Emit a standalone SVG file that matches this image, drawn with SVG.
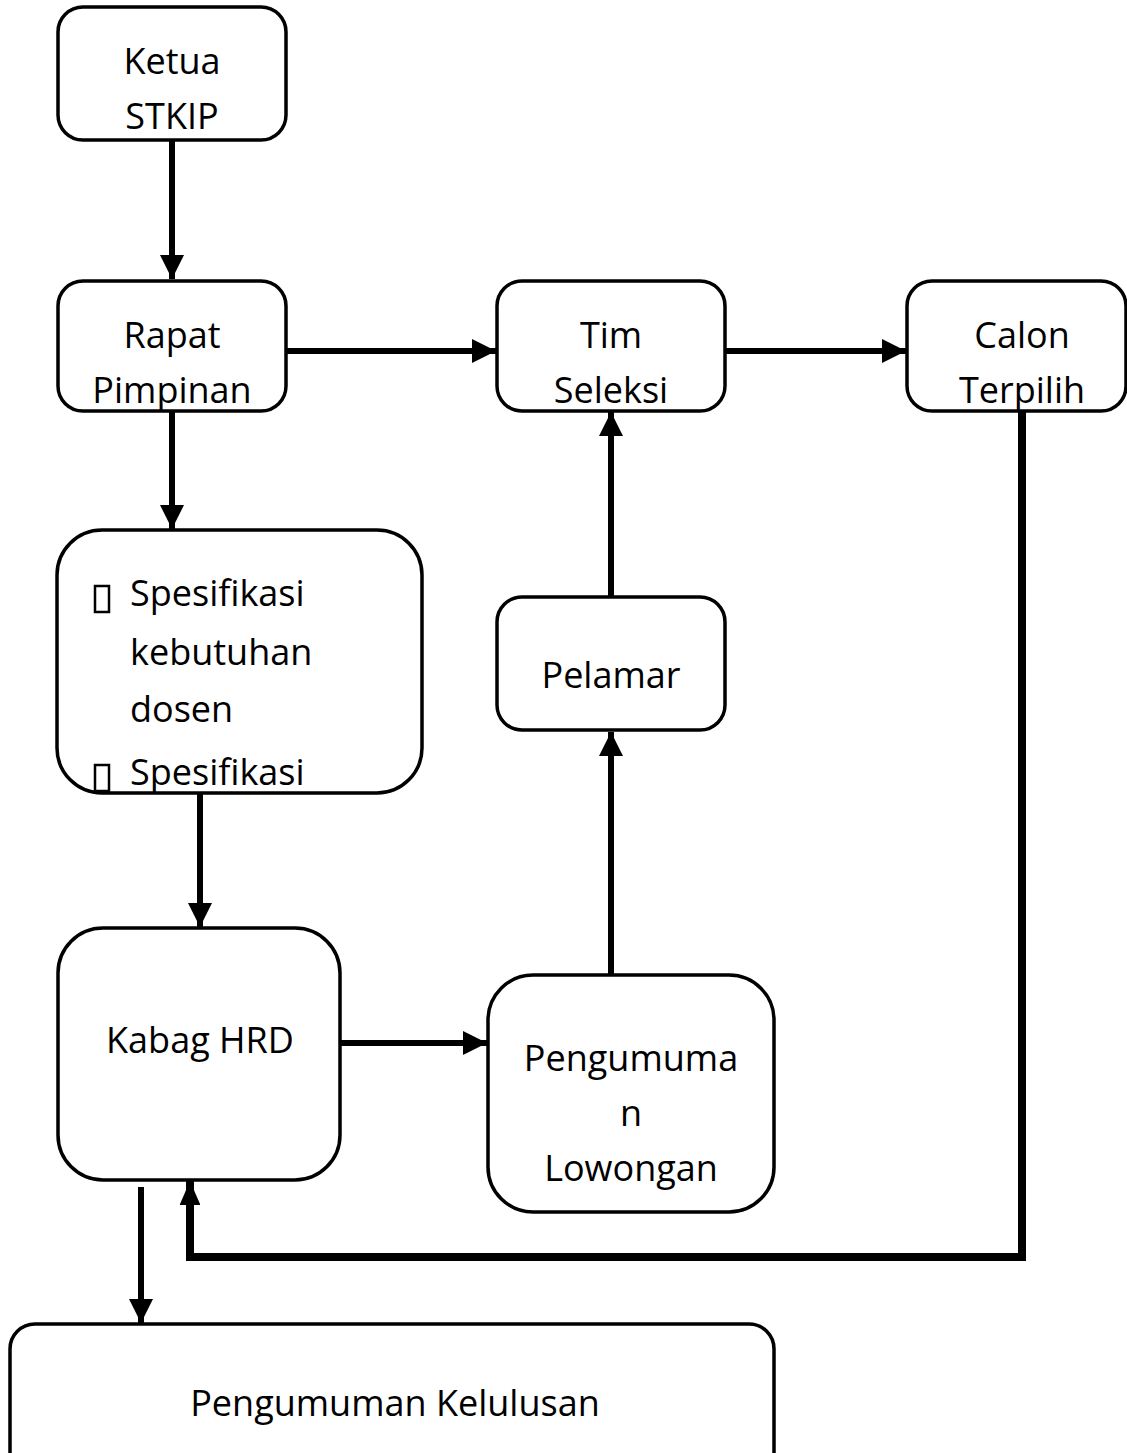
<svg xmlns="http://www.w3.org/2000/svg" width="1127" height="1453" viewBox="0 0 1127 1453">
<defs>
<style>
.box{fill:#fff;stroke:#000;stroke-width:3.5}
.t{font-family:"Open Sans","Liberation Sans",sans-serif;font-size:36px;fill:#000;text-anchor:middle}
.tl{font-family:"Open Sans","Liberation Sans",sans-serif;font-size:36px;fill:#000}
.c{fill:none;stroke:#000;stroke-width:6}
.cl{fill:none;stroke:#000;stroke-width:8}
.bul{fill:none;stroke:#000;stroke-width:2.5}
</style>
<marker id="ah" viewBox="0 0 10 10" refX="10" refY="5" markerWidth="4" markerHeight="4" markerUnits="strokeWidth" orient="auto"><path d="M0,0 L10,5 L0,10 z" fill="#000"/></marker>
<marker id="ah2" viewBox="0 0 10 10" refX="10" refY="5" markerWidth="3" markerHeight="2.6" markerUnits="strokeWidth" orient="auto" preserveAspectRatio="none"><path d="M0,0 L10,5 L0,10 z" fill="#000"/></marker>
</defs>
<g id="connectors">
<path class="c" d="M172,140 V279" marker-end="url(#ah)"/>
<path class="c" d="M286,351 H496" marker-end="url(#ah)"/>
<path class="c" d="M725,351 H906" marker-end="url(#ah)"/>
<path class="c" d="M172,411 V529" marker-end="url(#ah)"/>
<path class="c" d="M200,793 V927" marker-end="url(#ah)"/>
<path class="c" d="M340,1043 H487" marker-end="url(#ah)"/>
<path class="c" d="M611,975 V732" marker-end="url(#ah)"/>
<path class="c" d="M611,597 V412" marker-end="url(#ah)"/>
<path class="cl" d="M1022,411 V1257 H190 V1181" marker-end="url(#ah2)"/>
<path class="c" d="M141,1187 V1323" marker-end="url(#ah)"/>
</g>
<g id="ketua">
<rect class="box" x="58" y="7" width="228" height="133" rx="25"/>
<text class="t" x="172" y="74">Ketua</text>
<text class="t" x="172" y="129">STKIP</text>
</g>
<g id="rapat">
<rect class="box" x="58" y="281" width="228" height="130" rx="25"/>
<text class="t" x="172" y="348">Rapat</text>
<text class="t" x="172" y="403">Pimpinan</text>
</g>
<g id="tim">
<rect class="box" x="497" y="281" width="228" height="130" rx="25"/>
<text class="t" x="611" y="348">Tim</text>
<text class="t" x="611" y="403">Seleksi</text>
</g>
<g id="calon">
<rect class="box" x="907" y="281" width="219" height="130" rx="25"/>
<text class="t" x="1022" y="348">Calon</text>
<text class="t" x="1022" y="403">Terpilih</text>
</g>
<g id="spesifikasi">
<rect class="box" x="57" y="530" width="365" height="263" rx="45"/>
<rect class="bul" x="95" y="586" width="14" height="26"/>
<text class="tl" x="130" y="606">Spesifikasi</text>
<text class="tl" x="130" y="665">kebutuhan</text>
<text class="tl" x="130" y="722">dosen</text>
<rect class="bul" x="95" y="765" width="14" height="26"/>
<text class="tl" x="130" y="785">Spesifikasi</text>
</g>
<g id="pelamar">
<rect class="box" x="497" y="597" width="228" height="133" rx="25"/>
<text class="t" x="611" y="688">Pelamar</text>
</g>
<g id="kabag">
<rect class="box" x="58" y="928" width="282" height="252" rx="45"/>
<text class="t" x="200" y="1053">Kabag HRD</text>
</g>
<g id="lowongan">
<rect class="box" x="488" y="975" width="286" height="237" rx="45"/>
<text class="t" x="631" y="1071">Pengumuma</text>
<text class="t" x="631" y="1126">n</text>
<text class="t" x="631" y="1181">Lowongan</text>
</g>
<g id="kelulusan">
<rect class="box" x="10" y="1324" width="764" height="160" rx="25"/>
<text class="t" x="395" y="1416">Pengumuman Kelulusan</text>
</g>
</svg>
